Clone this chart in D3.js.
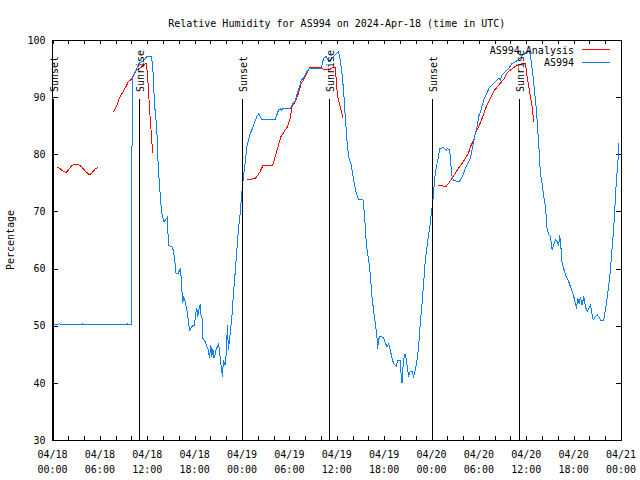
<!DOCTYPE html>
<html>
<head>
<meta charset="utf-8">
<script src="https://cdn.jsdelivr.net/npm/d3@7/dist/d3.min.js"></script>
<style>
  html, body { margin: 0; padding: 0; background: #fff; }
  svg { display: block; }
  text { font-family: "DejaVu Sans Mono", "Liberation Mono", monospace; font-size: 10px; fill: #000; }
</style>
</head>
<body>
<svg id="chart" width="640" height="480"></svg>
<script>
// ---------------- data (hours since 2024-04-18 00:00 UTC, percentage) ----------------
const chartTitle = "Relative Humidity for AS994 on 2024-Apr-18 (time in UTC)";
const yLabel = "Percentage";
const seriesNames = ["AS994 Analysis", "AS994"];
const seriesColors = ["#ff0000", "#0a80ff"];
const yTicks = [30, 40, 50, 60, 70, 80, 90, 100];
const xLabelHours = [0, 6, 12, 18, 24, 30, 36, 42, 48, 54, 60, 66, 72];
const xLabelDates = ["04/18","04/18","04/18","04/18","04/19","04/19","04/19","04/19","04/20","04/20","04/20","04/20","04/21"];
const xLabelTimes = ["00:00","06:00","12:00","18:00","00:00","06:00","12:00","18:00","00:00","06:00","12:00","18:00","00:00"];
const sunsetHours = [0.0, 24.06, 48.07];
const sunriseHours = [11.0, 35.07, 59.05];

// observed AS994 [hour, %]
const as994 = [
  [0,50.2],[0.9,50.3],[1.1,50.2],[2.6,50.3],[2.8,50.2],[3.8,50.3],[4.0,50.2],[5.1,50.3],[5.3,50.2],
  [6.8,50.3],[7.0,50.2],[8.3,50.3],[8.5,50.2],[9.5,50.3],[9.7,50.2],[10.0,50.2],
  [10.04,71.7],[10.11,93.3],[11.0,96.0],[11.51,96.3],[11.94,97.1],[12.49,97.1],[12.61,96.3],
  [12.78,93.6],[12.9,89.0],[13.08,86.5],[13.21,84.3],[13.31,80.7],[13.41,77.3],[13.54,74.9],
  [13.72,71.4],[13.84,69.7],[14.13,68.2],[14.48,68.8],[14.55,69.1],[14.68,64.1],[15.11,63.8],
  [15.31,63.2],[15.53,60.9],[15.65,59.2],[15.95,59.2],[16.16,60.0],[16.29,58.6],[16.42,55.4],
  [16.5,53.9],[16.58,55.1],[16.8,54.2],[17.01,52.75],[17.21,51.0],[17.34,49.25],[17.52,49.5],
  [17.77,50.1],[17.97,50.1],[18.15,52.2],[18.28,53.0],[18.41,51.6],[18.53,52.75],[18.7,53.8],
  [18.79,51.9],[18.95,51.3],[19.04,47.8],[19.33,47.2],[19.55,46.3],[19.75,45.75],[19.88,44.3],
  [20.05,46.6],[20.18,44.6],[20.31,45.9],[20.47,44.3],[20.72,45.75],[21.02,46.9],[21.14,45.75],
  [21.32,43.4],[21.52,41.1],[21.65,44.0],[21.87,43.1],[21.99,44.9],[22.16,50.1],[22.28,45.75],
  [22.41,47.5],[22.72,51.6],[22.92,55.7],[23.13,59.2],[23.35,63.25],[23.55,66.75],[23.77,69.7],
  [23.98,73.2],[24.19,76.1],[24.4,78.4],[24.62,81.3],[24.82,82.5],[25.03,83.7],[25.25,84.25],
  [25.54,85.4],[25.88,86.6],[26.09,87.05],[26.3,86.7],[26.52,86.1],[28.2,86.1],[28.42,86.9],
  [28.62,87.75],[28.84,88.0],[29.05,87.7],[29.18,88.0],[30.1,88.0],[30.32,88.6],[30.74,89.4],
  [30.95,90.4],[31.28,91.8],[31.5,93.0],[31.79,93.3],[32.22,94.5],[32.55,95.0],[33.91,95.0],
  [34.12,95.6],[34.33,96.8],[34.67,97.1],[34.96,96.25],[35.17,96.25],[35.39,96.8],[35.8,97.4],
  [36.23,98.0],[36.44,96.5],[36.66,94.2],[36.86,91.25],[37.08,86.6],[37.29,82.5],[37.5,79.6],
  [37.8,78.4],[38.13,75.5],[38.47,73.2],[38.76,72.1],[39.32,72.1],[39.49,69.7],[39.61,67.3],
  [39.74,64.4],[39.9,62.7],[40.16,60.3],[40.33,57.4],[40.46,55.1],[40.66,52.75],[40.88,50.4],
  [41.09,48.1],[41.17,46.0],[41.3,47.5],[41.42,48.1],[41.86,48.0],[42.02,47.5],[42.36,46.3],
  [42.57,46.9],[42.78,45.75],[43.0,44.3],[43.2,43.4],[43.54,42.9],[43.71,44.0],[44.05,44.0],
  [44.14,41.7],[44.26,39.9],[44.39,42.8],[44.56,44.9],[44.68,45.0],[44.81,44.0],[45.1,41.1],
  [45.32,42.0],[45.53,42.0],[45.73,41.1],[45.95,42.25],[46.17,44.0],[46.37,46.3],[46.58,50.4],
  [46.8,53.9],[47.0,57.4],[47.22,61.5],[47.43,63.8],[47.64,65.9],[47.85,67.9],[47.98,69.7],
  [48.14,71.4],[48.36,74.9],[48.48,76.7],[48.7,78.4],[48.9,79.6],[49.03,81.0],[49.54,81.2],
  [49.88,80.75],[50.05,81.0],[50.3,80.75],[50.48,77.8],[50.6,76.1],[50.81,75.4],[51.44,75.2],
  [51.65,75.5],[52.0,76.4],[52.29,77.6],[52.5,78.1],[52.83,79.0],[53.01,79.9],[53.14,80.75],
  [53.56,83.7],[53.77,84.8],[53.97,86.6],[54.28,87.75],[54.61,89.5],[55.04,90.7],[55.24,91.5],
  [55.67,92.1],[56.31,93.0],[56.51,93.3],[56.72,93.0],[56.94,93.9],[57.36,94.5],[57.78,95.0],
  [58.21,95.9],[58.63,96.2],[59.04,96.6],[59.47,97.2],[59.89,97.7],[60.31,98.2],[60.53,97.4],
  [60.65,95.9],[60.87,93.6],[61.03,91.25],[61.29,87.75],[61.45,84.25],[61.58,81.9],[61.71,78.4],
  [61.8,76.7],[62.01,74.9],[62.21,72.6],[62.43,70.8],[62.64,67.0],[62.85,65.9],[63.06,65.6],
  [63.28,63.25],[63.48,64.1],[63.7,65.0],[63.91,64.7],[64.11,64.1],[64.24,65.9],[64.42,63.25],
  [64.54,60.9],[64.75,60.0],[64.96,58.9],[65.18,58.3],[65.38,57.7],[65.6,56.8],[65.81,56.0],
  [66.02,55.1],[66.23,53.9],[66.36,53.0],[66.52,54.8],[66.7,53.9],[66.86,55.0],[67.08,53.6],
  [67.28,55.1],[67.5,53.3],[67.71,52.45],[67.92,53.0],[68.13,53.6],[68.48,51.0],[68.77,51.6],
  [68.98,51.9],[69.18,51.6],[69.4,51.0],[69.82,51.0],[69.94,52.2],[70.16,53.9],[70.33,55.7],
  [70.58,58.6],[70.76,61.5],[70.92,64.4],[71.09,67.3],[71.21,70.25],[71.34,73.75],[71.52,77.25],
  [71.68,79.9],[71.72,81.9]
];

// AS994 Analysis [hour, %]; null marks a gap
const as994Analysis = [
  [0.61,77.7],[0.95,77.5],[1.29,77.1],[1.71,76.8],[2.0,77.25],[2.31,77.8],[2.64,78.2],[3.07,78.2],
  [3.4,78.1],[3.7,77.8],[4.12,77.1],[4.66,76.4],[4.97,76.7],[5.39,77.4],[5.81,77.8],
  [6.5,null],
  [7.71,87.45],[7.92,87.9],[8.21,88.8],[8.47,89.8],[8.68,90.4],[8.97,91.0],[9.4,92.1],[9.6,92.7],
  [9.9,93.0],[10.24,93.7],[10.58,94.6],[10.88,94.9],[11.3,95.3],[11.6,95.75],[11.85,95.9],
  [12.02,94.2],[12.2,90.1],[12.36,86.6],[12.57,82.5],[12.69,80.2],
  [18,null],
  [24.69,75.5],[25.12,75.6],[25.67,75.8],[25.88,76.1],[26.3,77.0],[26.64,78.0],[27.06,78.1],
  [27.79,77.95],[27.99,78.4],[28.2,79.6],[28.62,81.6],[28.93,83.1],[29.47,84.25],[29.76,84.8],
  [30.1,86.3],[30.32,88.3],[30.74,89.2],[31.08,90.4],[31.5,92.4],[31.79,93.0],[32.22,94.2],
  [32.64,95.25],[33.91,95.25],[34.25,94.9],[34.76,94.75],[35.17,94.9],[35.52,95.2],[35.8,95.25],
  [35.94,93.0],[36.1,90.1],[36.35,88.9],[36.53,87.75],[36.79,86.3],
  [42,null],
  [48.78,74.6],[49.33,74.6],[49.46,74.45],[49.88,74.45],[50.17,74.9],[50.6,75.8],[51.02,76.7],
  [51.44,77.6],[51.87,78.4],[52.29,79.3],[52.71,80.3],[52.92,81.3],[53.34,82.5],[53.56,83.7],
  [53.97,84.8],[54.41,86.3],[54.69,87.45],[55.11,88.9],[55.46,89.8],[55.87,91.0],[56.38,91.9],
  [56.81,92.6],[57.23,93.3],[57.57,94.3],[57.99,94.75],[58.5,95.25],[58.92,95.6],[59.26,95.75],
  [59.68,95.9],[59.89,95.9],[60.11,93.6],[60.31,91.9],[60.53,90.1],[60.74,88.3],[60.95,85.7]
];

// ---------------- drawing ----------------
const svg = d3.select("#chart");
const W = 640, H = 480;
const m = { left: 52.5, right: 621, top: 40, bottom: 440 };
const t0 = Date.UTC(2024, 3, 18, 0, 0);
const toDate = h => new Date(t0 + h * 3600e3);

const x = d3.scaleUtc().domain([toDate(0), toDate(72)]).range([m.left, m.right]);
const y = d3.scaleLinear().domain([30, 100]).range([m.bottom, m.top]);

svg.append("rect").attr("width", W).attr("height", H).attr("fill", "#fff");

// title
svg.append("text").attr("x", (m.left + m.right) / 2).attr("y", 27)
  .attr("text-anchor", "middle").text(chartTitle);

// axes (inward ticks, mirrored)
const xTicks = d3.utcHour.every(2).range(toDate(0), toDate(72.01));
const axB = svg.append("g").attr("transform", `translate(0,${m.bottom})`)
  .call(d3.axisBottom(x).tickValues(xTicks).tickSize(-4).tickFormat(""));
const axT = svg.append("g").attr("transform", `translate(0,${m.top})`)
  .call(d3.axisTop(x).tickValues(xTicks).tickSize(-4).tickFormat(""));
const axL = svg.append("g").attr("transform", `translate(${m.left},0)`)
  .call(d3.axisLeft(y).tickValues(yTicks).tickSize(-5).tickPadding(7));
const axR = svg.append("g").attr("transform", `translate(${m.right},0)`)
  .call(d3.axisRight(y).tickValues(yTicks).tickSize(-5).tickFormat(""));
[axB, axT, axL, axR].forEach(g => {
  g.select(".domain").remove();
  g.selectAll("line").attr("stroke", "#000").attr("shape-rendering", "crispEdges");
  g.selectAll("text").attr("font-family", "DejaVu Sans Mono").attr("font-size", 10).attr("fill", "#000");
});

// x labels (two lines)
const xl = svg.append("g").selectAll("text").data(xLabelHours).join("text")
  .attr("text-anchor", "middle")
  .attr("transform", h => `translate(${x(toDate(h))},0)`);
xl.append("tspan").attr("x", 0).attr("y", 458).text((h, i) => xLabelDates[i]);
xl.append("tspan").attr("x", 0).attr("y", 473).text((h, i) => xLabelTimes[i]);

// y label
svg.append("text").attr("transform", `translate(14,${(m.top + m.bottom) / 2}) rotate(-90)`)
  .attr("text-anchor", "middle").text(yLabel);

// data lines
const line = d3.line()
  .defined(d => d[1] !== null)
  .x(d => x(toDate(d[0])))
  .y(d => y(d[1]));

const plot = svg.append("g");
plot.append("path").datum(as994Analysis).attr("d", line)
  .attr("fill", "none").attr("stroke", seriesColors[0]).attr("stroke-width", 1)
  .attr("shape-rendering", "crispEdges");
plot.append("path").datum(as994).attr("d", line)
  .attr("fill", "none").attr("stroke", seriesColors[1]).attr("stroke-width", 1)
  .attr("shape-rendering", "crispEdges");

// sunrise / sunset markers
const events = sunsetHours.map(h => ({ h, label: "Sunset" }))
  .concat(sunriseHours.map(h => ({ h, label: "Sunrise" })));
const ev = svg.append("g").selectAll("g").data(events).join("g");
ev.append("line")
  .attr("x1", d => Math.round(x(toDate(d.h))) + 0.5).attr("x2", d => Math.round(x(toDate(d.h))) + 0.5)
  .attr("y1", 99).attr("y2", m.bottom)
  .attr("stroke", "#000").attr("shape-rendering", "crispEdges");
ev.append("text")
  .attr("transform", d => `translate(${x(toDate(d.h)) + 5},92) rotate(-90)`)
  .attr("text-anchor", "start").text(d => d.label);

// frame
svg.append("rect").attr("x", m.left).attr("y", m.top)
  .attr("width", m.right - m.left).attr("height", m.bottom - m.top)
  .attr("fill", "none").attr("stroke", "#000").attr("shape-rendering", "crispEdges");

// legend
const lg = svg.append("g");
seriesNames.forEach((name, i) => {
  const ly = 50 + i * 12.5;
  lg.append("text").attr("x", 574).attr("y", ly + 3.5).attr("text-anchor", "end").text(name);
  lg.append("line").attr("x1", 582).attr("x2", 610).attr("y1", ly - 0.5).attr("y2", ly - 0.5)
    .attr("stroke", seriesColors[i]).attr("shape-rendering", "crispEdges");
});
</script>
</body>
</html>
